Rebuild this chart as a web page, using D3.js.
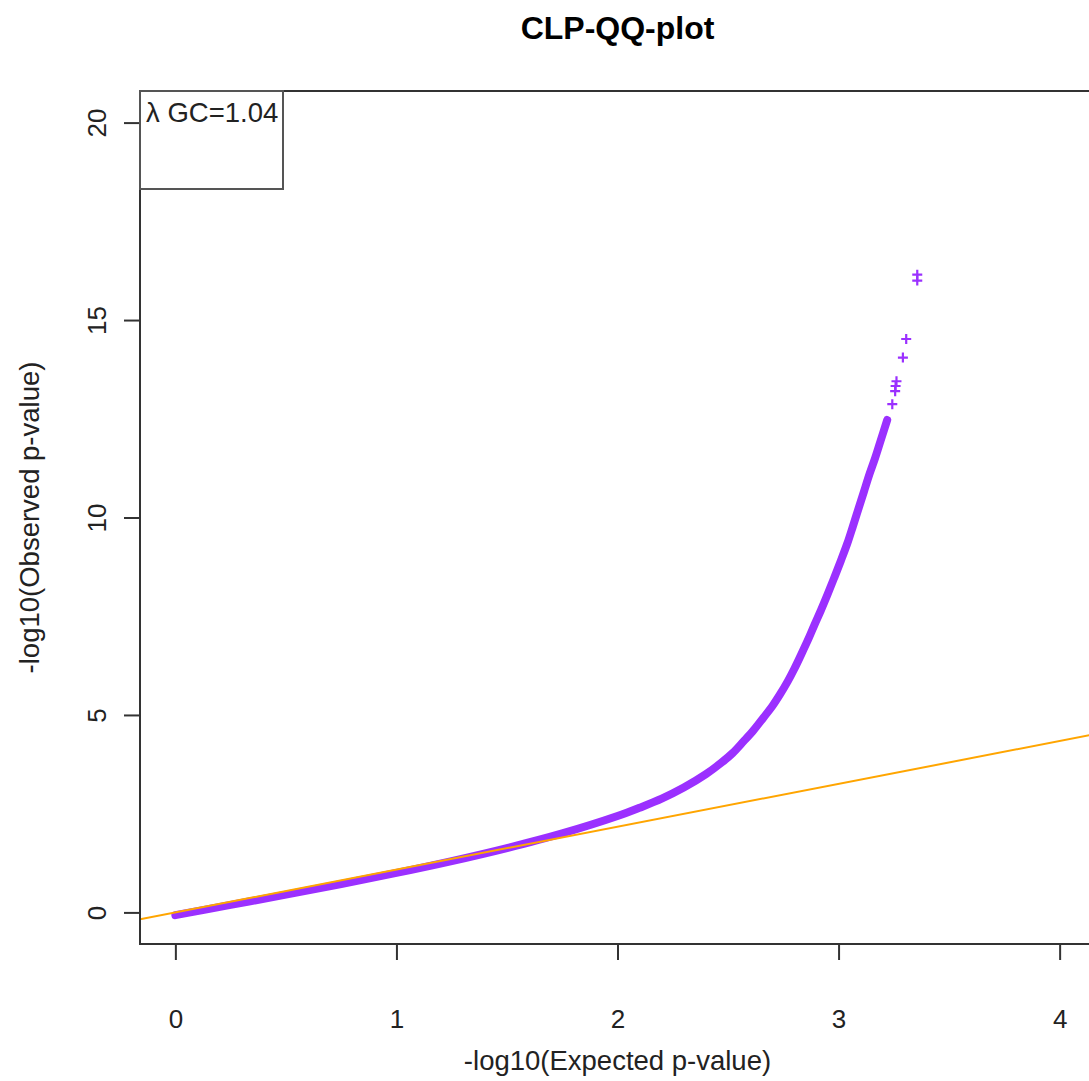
<!DOCTYPE html>
<html>
<head>
<meta charset="utf-8">
<script src="https://cdn.jsdelivr.net/npm/d3@7"></script>
<style>
  html, body { margin: 0; padding: 0; background: #fff; }
  svg { display: block; font-family: "Liberation Sans", Arial, sans-serif; }
</style>
</head>
<body>
<svg id="chart" width="1089" height="1081"></svg>
<script>
// ---- data ----
const chartTitle = "CLP-QQ-plot";
const xTitle = "-log10(Expected p-value)";
const yTitle = "-log10(Observed p-value)";
const legendText = "λ GC=1.04";
const xTicks = [0, 1, 2, 3, 4];
const yTicks = [0, 5, 10, 15, 20];
const xLimits = [0, 4];
const yLimits = [0, 20];
// dense part of the QQ cloud (expected, observed)
const denseExpected = [0.0, 0.25, 0.5, 0.75, 1.0, 1.25, 1.5, 1.75, 2.0, 2.1, 2.2, 2.3, 2.4, 2.47, 2.52, 2.57, 2.615, 2.66, 2.70, 2.735, 2.77, 2.80, 2.83, 2.86, 2.89, 2.92, 2.95, 2.98, 3.01, 3.04, 3.065, 3.09, 3.115, 3.14, 3.165, 3.19, 3.22];
const denseObserved = [-0.07, 0.19, 0.45, 0.72, 1.0, 1.30, 1.63, 2.00, 2.44, 2.65, 2.88, 3.16, 3.50, 3.79, 4.03, 4.33, 4.61, 4.93, 5.22, 5.52, 5.85, 6.17, 6.52, 6.88, 7.27, 7.65, 8.05, 8.47, 8.90, 9.35, 9.78, 10.22, 10.66, 11.10, 11.50, 11.94, 12.47];
// sparse top points
const topExpected = [3.243, 3.256, 3.258, 3.262, 3.291, 3.306, 3.356, 3.356];
const topObserved = [12.87, 13.20, 13.33, 13.45, 14.05, 14.52, 16.00, 16.15];
// reference line (intercept, slope)
const refIntercept = 0.0;
const refSlope = 1.085;

// ---- layout ----
const svg = d3.select("#chart");
const plot = { left: 140, top: 91, bottom: 944, right: 1095 };
const pad = 0.04;
const xr = xLimits[1] - xLimits[0], yr = yLimits[1] - yLimits[0];
const x = d3.scaleLinear().domain([xLimits[0] - pad * xr, xLimits[1] + pad * xr]).range([plot.left, plot.right]);
const y = d3.scaleLinear().domain([yLimits[0] - pad * yr, yLimits[1] + pad * yr]).range([plot.bottom, plot.top]);

const purple = "#9B30FF";
const textCol = "#222";

svg.append("defs").append("clipPath").attr("id", "clip")
  .append("rect").attr("x", plot.left).attr("y", plot.top)
  .attr("width", plot.right - plot.left).attr("height", plot.bottom - plot.top);

// title
svg.append("text").attr("x", (plot.left + plot.right) / 2).attr("y", 39)
  .attr("text-anchor", "middle").attr("font-size", 32).attr("font-weight", "bold")
  .attr("fill", "#000").text(chartTitle);

const g = svg.append("g").attr("clip-path", "url(#clip)");

// dense cloud as thick band
const densePts = denseExpected.map((e, i) => [e, denseObserved[i]]);
g.append("path").datum(densePts)
  .attr("d", d3.line().x(d => x(d[0])).y(d => y(d[1])).curve(d3.curveCatmullRom))
  .attr("fill", "none").attr("stroke", purple).attr("stroke-width", 8)
  .attr("stroke-linecap", "round").attr("stroke-linejoin", "round");

// sparse top points as plus markers
const topPts = topExpected.map((e, i) => [e, topObserved[i]]);
g.selectAll("path.plus").data(topPts).join("path").attr("class", "plus")
  .attr("transform", d => `translate(${x(d[0])},${y(d[1])})`)
  .attr("d", d3.line()([[-5, 0], [5, 0]]) + d3.line()([[0, -5], [0, 5]]))
  .attr("fill", "none").attr("stroke", purple).attr("stroke-width", 2.2);

// reference line
const xd = x.domain();
g.append("line")
  .attr("x1", x(xd[0])).attr("y1", y(refIntercept + refSlope * xd[0]))
  .attr("x2", x(xd[1])).attr("y2", y(refIntercept + refSlope * xd[1]))
  .attr("stroke", "#FFA500").attr("stroke-width", 2);

// box
svg.append("rect").attr("x", plot.left).attr("y", plot.top)
  .attr("width", plot.right - plot.left).attr("height", plot.bottom - plot.top)
  .attr("fill", "none").attr("stroke", "#333").attr("stroke-width", 2);

// x axis
const xAxis = svg.append("g").attr("transform", `translate(0,${plot.bottom})`)
  .call(d3.axisBottom(x).tickValues(xTicks).tickSize(16).tickPadding(50).tickFormat(d3.format("d")));
xAxis.select(".domain").remove();
xAxis.selectAll("line").attr("stroke", "#333").attr("stroke-width", 2);
xAxis.selectAll("text").attr("font-size", 26).attr("fill", textCol)
  .attr("font-family", "Liberation Sans, Arial, sans-serif");

// y axis
const yAxis = svg.append("g").attr("transform", `translate(${plot.left},0)`)
  .call(d3.axisLeft(y).tickValues(yTicks).tickSize(16).tickFormat(d3.format("d")));
yAxis.select(".domain").remove();
yAxis.selectAll("line").attr("stroke", "#333").attr("stroke-width", 2);
yAxis.selectAll("text").attr("x", null).attr("dy", null)
  .attr("transform", "translate(-43,0) rotate(-90)")
  .attr("text-anchor", "middle").attr("dominant-baseline", "central")
  .attr("font-size", 26).attr("fill", textCol)
  .attr("font-family", "Liberation Sans, Arial, sans-serif");

// axis titles
svg.append("text").attr("x", (plot.left + plot.right) / 2).attr("y", 1070)
  .attr("text-anchor", "middle").attr("font-size", 27.5).attr("fill", textCol).text(xTitle);
svg.append("text").attr("transform", `translate(39,${(plot.top + plot.bottom) / 2}) rotate(-90)`)
  .attr("text-anchor", "middle").attr("font-size", 27.5).attr("fill", textCol).text(yTitle);

// legend box
svg.append("rect").attr("x", plot.left).attr("y", plot.top)
  .attr("width", 143).attr("height", 98)
  .attr("fill", "none").attr("stroke", "#555").attr("stroke-width", 2);
svg.append("text").attr("x", 146).attr("y", 122).attr("font-size", 27.5)
  .attr("fill", textCol).text(legendText);
</script>
</body>
</html>
